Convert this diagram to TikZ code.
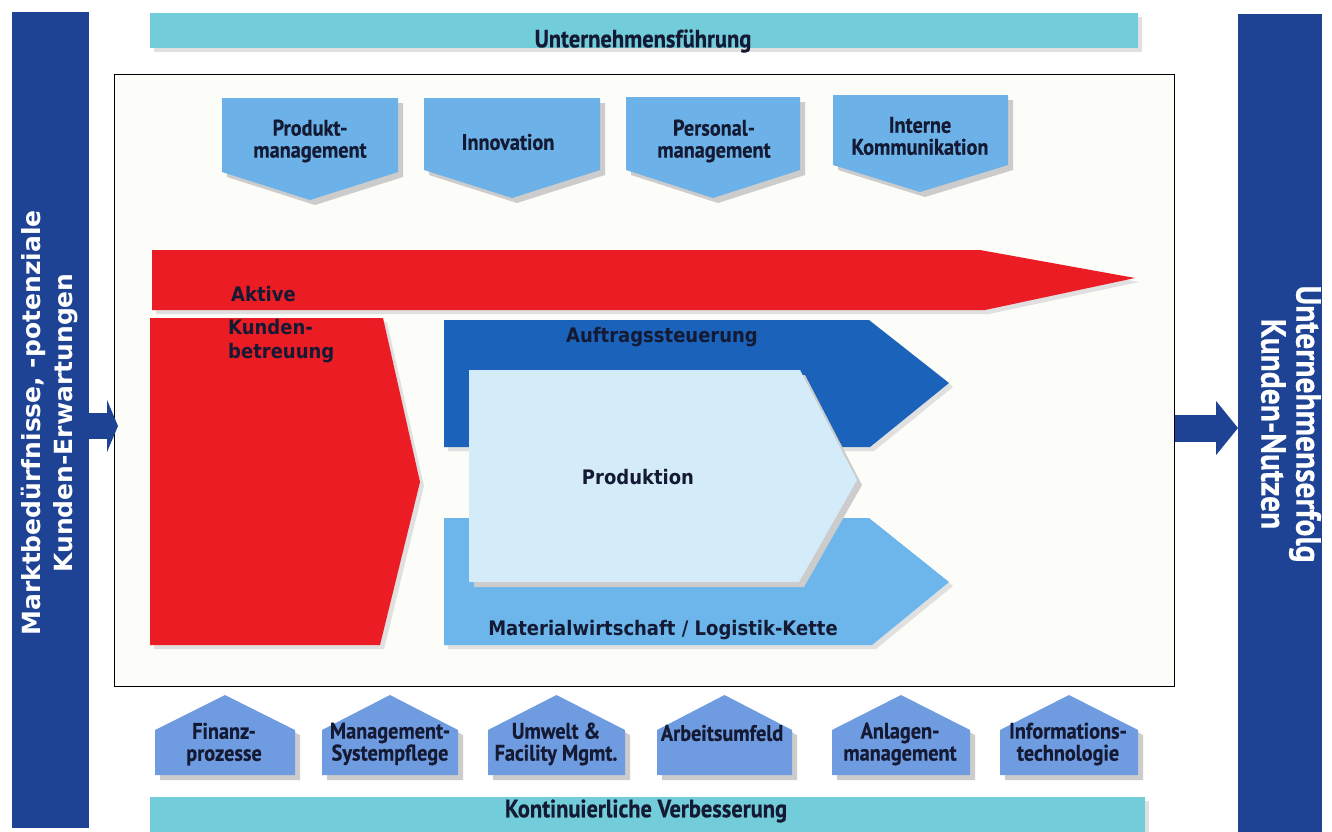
\documentclass[tikz,border=0pt]{standalone}
\usepackage{fontspec}
\setmainfont{PT Sans}
\newfontfamily\cnd{PT Sans}[FakeStretch=0.9, BoldFeatures={FakeBold=0.5}]
\newfontfamily\vfn{DejaVu Sans}[FakeStretch=0.9]
\newfontfamily\vfw{DejaVu Sans}
\usetikzlibrary{shadows,arrows.meta,calc}
\definecolor{navybar}{HTML}{1E4394}
\definecolor{bandcyan}{HTML}{72CCD9}
\definecolor{topblue}{HTML}{6CB2E8}
\definecolor{redarrow}{HTML}{EC1C24}
\definecolor{auftrag}{HTML}{1A62BA}
\definecolor{produktion}{HTML}{D4ECF9}
\definecolor{material}{HTML}{6CB6EC}
\definecolor{house}{HTML}{6F9BE0}
\definecolor{txt}{HTML}{141A33}
\definecolor{boxbg}{HTML}{FCFCF8}
\tikzset{
  shad/.style={drop shadow={shadow xshift=5pt, shadow yshift=-5pt, fill=black!20, opacity=1}},
  shadlight/.style={drop shadow={shadow xshift=4pt, shadow yshift=-4pt, fill=black!12, opacity=1}},
  lbl/.style={text=txt, font=\cnd\bfseries\fontsize{22.5}{22}\selectfont, align=center, inner sep=0pt},
  bandlbl/.style={lbl, font=\cnd\bfseries\fontsize{25}{25}\selectfont},
  vlbl/.style={text=txt, font=\vfn\bfseries\fontsize{20}{24}\selectfont, align=left, inner sep=0pt},
  bar/.style={fill=navybar, inner sep=0pt, anchor=north west},
  band/.style={fill=bandcyan, shadlight, inner sep=0pt, anchor=north west},
  blockarrow/.style={navybar, line width=#1},
}
\begin{document}
\begin{tikzpicture}[x=1pt,y=-1pt]
\useasboundingbox[fill=white] (0,0) rectangle (1332,831);

% side bars
\node[bar, minimum width=77pt, minimum height=816pt] (lbar) at (12,12) {};
\node[bar, minimum width=84pt, minimum height=820pt] (rbar) at (1238,14) {};
\node[rotate=90, text=white, font=\vfw\bfseries\fontsize{25}{32}\selectfont, align=center, inner sep=0pt] (ltext) at (50,423) {Marktbedürfnisse, -potenziale\\Kunden-Erwartungen};
\node[rotate=-90, text=white, font=\cnd\bfseries\fontsize{35}{35}\selectfont, align=center, inner sep=0pt] (rtext) at (1291,424) {Unternehmenserfolg\\Kunden-Nutzen};

% bands
\node[band, minimum width=988pt, minimum height=35pt] (topband) at (150,13) {};
\node[bandlbl] (toptext) at (643,41) {Unternehmensführung};
\node[band, minimum width=995pt, minimum height=40pt] (botband) at (150,797) {};
\node[bandlbl] (bottext) at (646,811) {Kontinuierliche Verbesserung};

% main box
\node[draw=black, line width=1.4pt, fill=boxbg, minimum width=1060pt, minimum height=612pt, inner sep=0pt, anchor=north west] (box) at (114,74) {};

% in / out arrows
\draw[blockarrow=26pt, -{Triangle[width=52pt,length=11pt]}] (lbar.east |- 0,426) -- ($(box.west |- 0,426)+(4,0)$);
\draw[blockarrow=27pt, -{Triangle[width=53pt,length=22pt]}] (box.east |- 0,428) -- (rbar.west |- 0,428);

% top support processes
\fill[topblue, shad] (222,98) -- (398,98) -- (398,172) -- (310,200) -- (222,172) -- cycle;
\fill[topblue, shad] (424,98) -- (600,98) -- (600,170) -- (512,198) -- (424,170) -- cycle;
\fill[topblue, shad] (626,97) -- (800,97) -- (800,170) -- (713,198) -- (626,170) -- cycle;
\fill[topblue, shad] (833,95) -- (1008,95) -- (1008,165) -- (920,192) -- (833,165) -- cycle;
\node[lbl] (t1) at (310,141) {Produkt-\\management};
\node[lbl] (t2) at (508,142) {Innovation};
\node[lbl] (t3) at (714,141) {Personal-\\management};
\node[lbl] (t4) at (920,136) {Interne\\Kommunikation};

% red arrow: Aktive Kundenbetreuung
\fill[redarrow, shadlight] (152,250) -- (980,250) -- (1135,278) -- (985,310) -- (152,310) -- cycle;
\fill[redarrow, shadlight] (150,318) -- (383,318) -- (420,482) -- (380,645) -- (150,645) -- cycle;
\node[vlbl, anchor=west] (aktive) at (231,294) {Aktive};
\node[vlbl, anchor=north west] (kunden) at (228,319) {Kunden-\\betreuung};

% core processes
\fill[auftrag, shadlight] (444,320) -- (869,320) -- (949,383) -- (870,447) -- (444,447) -- cycle;
\fill[material, shadlight] (444,518) -- (869,518) -- (949,582) -- (872,645) -- (444,645) -- cycle;
\fill[produktion, shad] (469,370) -- (800,370) -- (857,480) -- (799,582) -- (469,582) -- cycle;
\node[vlbl] (auft) at (662,337) {Auftragssteuerung};
\node[vlbl] (prod) at (638,477) {Produktion};
\node[vlbl] (mat) at (663,630) {Materialwirtschaft / Logistik-Kette};

% bottom support processes
\foreach \xa/\xb [count=\i] in {155/295, 322/458, 488/625, 657/792, 832/970, 1000/1138}{
  \fill[house, shad] (\xa,730) -- ({(\xa+\xb)/2},695) -- (\xb,730) -- (\xb,775) -- (\xa,775) -- cycle;
}
\node[lbl] (b1) at (224,744) {Finanz-\\prozesse};
\node[lbl] (b2) at (390,744) {Management-\\Systempflege};
\node[lbl] (b3) at (556,744) {Umwelt \&\\Facility Mgmt.};
\node[lbl] (b4) at (722,733) {Arbeitsumfeld};
\node[lbl] (b5) at (900,744) {Anlagen-\\management};
\node[lbl] (b6) at (1068,744) {Informations-\\technologie};
\end{tikzpicture}
\end{document}
